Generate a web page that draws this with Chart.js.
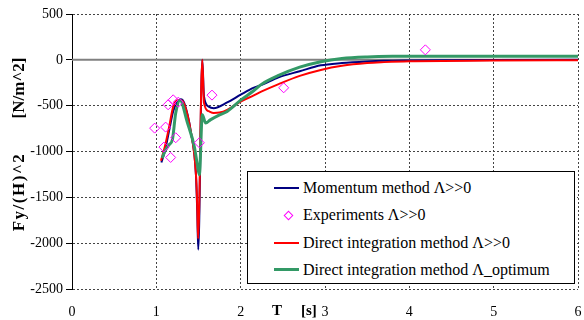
<!DOCTYPE html>
<html>
<head>
<meta charset="utf-8">
<script src="https://cdn.jsdelivr.net/npm/chart.js@4/dist/chart.umd.min.js"></script>
<style>
  body { margin: 0; background: #fff; }
  #wrap { position: relative; width: 584px; height: 320px; }
  #legend {
    position: absolute; left: 247px; top: 171px; width: 326px; height: 111px;
    border: 1px solid #000; background: #fff;
    font-family: "Liberation Serif", "DejaVu Serif", serif; font-size: 16px; color: #000;
  }
  .row { position: absolute; left: 0; height: 20px; line-height: 20px; width: 100%; }
  .row .txt { position: absolute; left: 55px; top: 0; white-space: nowrap; }
  .row .ln { position: absolute; left: 26px; width: 25px; }
  .row .dia { position: absolute; left: 37px; top: 7px; width: 5px; height: 5px; border: 1px solid #ff00ff; transform: rotate(45deg); }
</style>
</head>
<body>
<div id="wrap">
  <canvas id="chart" width="584" height="320"></canvas>
  <div id="legend">
    <div class="row" style="top:6px"><div class="ln" style="top:9px;height:2px;background:#000080"></div><span class="txt">Momentum method Λ&gt;&gt;0</span></div>
    <div class="row" style="top:33px"><div class="dia"></div><span class="txt">Experiments Λ&gt;&gt;0</span></div>
    <div class="row" style="top:61px"><div class="ln" style="top:9px;height:2px;background:#ff0000"></div><span class="txt">Direct integration method Λ&gt;&gt;0</span></div>
    <div class="row" style="top:88px"><div class="ln" style="top:8px;height:3px;background:#339966"></div><span class="txt">Direct integration method Λ_optimum</span></div>
  </div>
</div>
<script>
// data
const tMom = [1.06, 1.10, 1.15, 1.20, 1.25, 1.29, 1.33, 1.41, 1.47, 1.485, 1.497, 1.545, 1.565, 1.62, 1.68, 1.84, 2.0, 2.15, 2.25, 2.45, 2.7, 2.95, 3.2, 3.5, 3.7, 4.0, 4.5, 5.0, 6.0];
const fMom = [-1120, -1000, -780, -560, -460, -430, -470, -790, -1260, -1650, -2070, 0, -400, -510, -527, -465, -380, -305, -273, -190, -125, -60, -35, -18, -11, -7, -4, -2, 0];

const tRed = [1.055, 1.10, 1.15, 1.20, 1.25, 1.29, 1.33, 1.41, 1.47, 1.485, 1.495, 1.545, 1.565, 1.62, 1.68, 1.75, 1.84, 2.0, 2.15, 2.25, 2.45, 2.7, 2.95, 3.2, 3.5, 3.7, 4.0, 5.0, 6.0];
const fRed = [-1100, -950, -740, -510, -440, -440, -480, -790, -1250, -1600, -1950, 0, -470, -560, -580, -575, -545, -455, -390, -345, -265, -175, -110, -65, -35, -25, -15, -8, -5];

const tOpt = [1.07, 1.10, 1.15, 1.19, 1.23, 1.28, 1.37, 1.45, 1.49, 1.51, 1.545, 1.585, 1.64, 1.75, 1.84, 2.0, 2.15, 2.25, 2.45, 2.7, 2.95, 3.2, 3.5, 3.8, 4.5, 6.0];
const fOpt = [-1072, -1000, -927, -872, -581, -440, -690, -945, -1163, -1254, -600, -690, -655, -600, -563, -440, -340, -265, -170, -80, -20, 15, 32, 38, 40, 40];

const tExp = [0.98, 1.09, 1.11, 1.14, 1.17, 1.20, 1.23, 1.26, 1.51, 1.66, 2.51, 4.19];
const fExp = [-745, -952, -734, -490, -1065, -436, -850, -462, -905, -385, -305, 109];

const xTicks = [0, 1, 2, 3, 4, 5, 6];
const yTicks = [500, 0, -500, -1000, -1500, -2000, -2500];

const pts = (xs, ys) => xs.map((x, i) => ({ x: x, y: ys[i] }));
const serif = '"Liberation Serif", "DejaVu Serif", serif';

// zero line + axis titles
const extras = {
  id: "extras",
  beforeDatasetsDraw(chart) {
    const { ctx, chartArea, scales } = chart;
    const y0 = scales.y.getPixelForValue(0);
    ctx.save();
    ctx.strokeStyle = "#808080";
    ctx.lineWidth = 2;
    ctx.beginPath();
    ctx.moveTo(chartArea.left, y0);
    ctx.lineTo(chartArea.right, y0);
    ctx.stroke();
    ctx.restore();
  },
  afterDraw(chart) {
    const ctx = chart.ctx;
    ctx.save();
    ctx.fillStyle = "#000";
    ctx.font = "bold 15px " + serif;
    ctx.textBaseline = "middle";
    ctx.textAlign = "left";
    ctx.fillText("T", 272, 311);
    ctx.fillText("[s]", 301, 311);

    ctx.font = "bold 17px " + serif;
    ctx.textAlign = "center";
    ctx.translate(20, 0);
    ctx.rotate(-Math.PI / 2);
    ctx.letterSpacing = "1.5px";
    ctx.fillText("Fy/(H)^2", -192, 0);
    ctx.letterSpacing = "0px";
    ctx.fillText("[N/m^2]", -88, 0);
    ctx.restore();
  }
};

new Chart(document.getElementById("chart"), {
  type: "scatter",
  data: {
    datasets: [
      {
        label: "Momentum method Λ>>0",
        data: pts(tMom, fMom),
        showLine: true, borderColor: "#000080", borderWidth: 2, pointRadius: 0,
        cubicInterpolationMode: "monotone", order: 3
      },
      {
        label: "Experiments Λ>>0",
        data: pts(tExp, fExp),
        showLine: false, pointStyle: "rectRot", pointRadius: 5,
        borderColor: "#ff00ff", backgroundColor: "rgba(0,0,0,0)", borderWidth: 1, order: 0
      },
      {
        label: "Direct integration method Λ>>0",
        data: pts(tRed, fRed),
        showLine: true, borderColor: "#ff0000", borderWidth: 2, pointRadius: 0,
        cubicInterpolationMode: "monotone", order: 2
      },
      {
        label: "Direct integration method Λ_optimum",
        data: pts(tOpt, fOpt),
        showLine: true, borderColor: "#339966", borderWidth: 3, pointRadius: 0,
        cubicInterpolationMode: "monotone", order: 1
      }
    ]
  },
  options: {
    responsive: false,
    animation: false,
    layout: { padding: { top: 14, right: -3, left: 0, bottom: 0 } },
    plugins: { legend: { display: false }, tooltip: { enabled: false } },
    scales: {
      x: {
        type: "linear", min: 0, max: 6,
        afterBuildTicks: (s) => { s.ticks = xTicks.map(v => ({ value: v })); },
        afterFit: (s) => { s.height = 31; s.paddingLeft = 0; s.paddingRight = 0; },
        ticks: { color: "#000", font: { family: serif, size: 14 }, padding: 15, maxRotation: 0, callback: (v) => String(v) },
        grid: { color: "#444", lineWidth: 1, drawTicks: false },
        border: { display: false, dash: [2, 2] }
      },
      y: {
        min: -2500, max: 500,
        afterBuildTicks: (s) => { s.ticks = yTicks.map(v => ({ value: v })); },
        afterFit: (s) => { s.width = 72; s.paddingTop = 0; s.paddingBottom = 0; },
        ticks: { color: "#000", font: { family: serif, size: 14 }, padding: 3, callback: (v) => String(v) },
        grid: { color: "#444", lineWidth: 1, tickLength: 6, tickColor: "#000", tickBorderDash: [] },
        border: { display: true, color: "#000", width: 1, dash: [2, 2] }
      }
    }
  },
  plugins: [extras]
});
</script>
</body>
</html>
